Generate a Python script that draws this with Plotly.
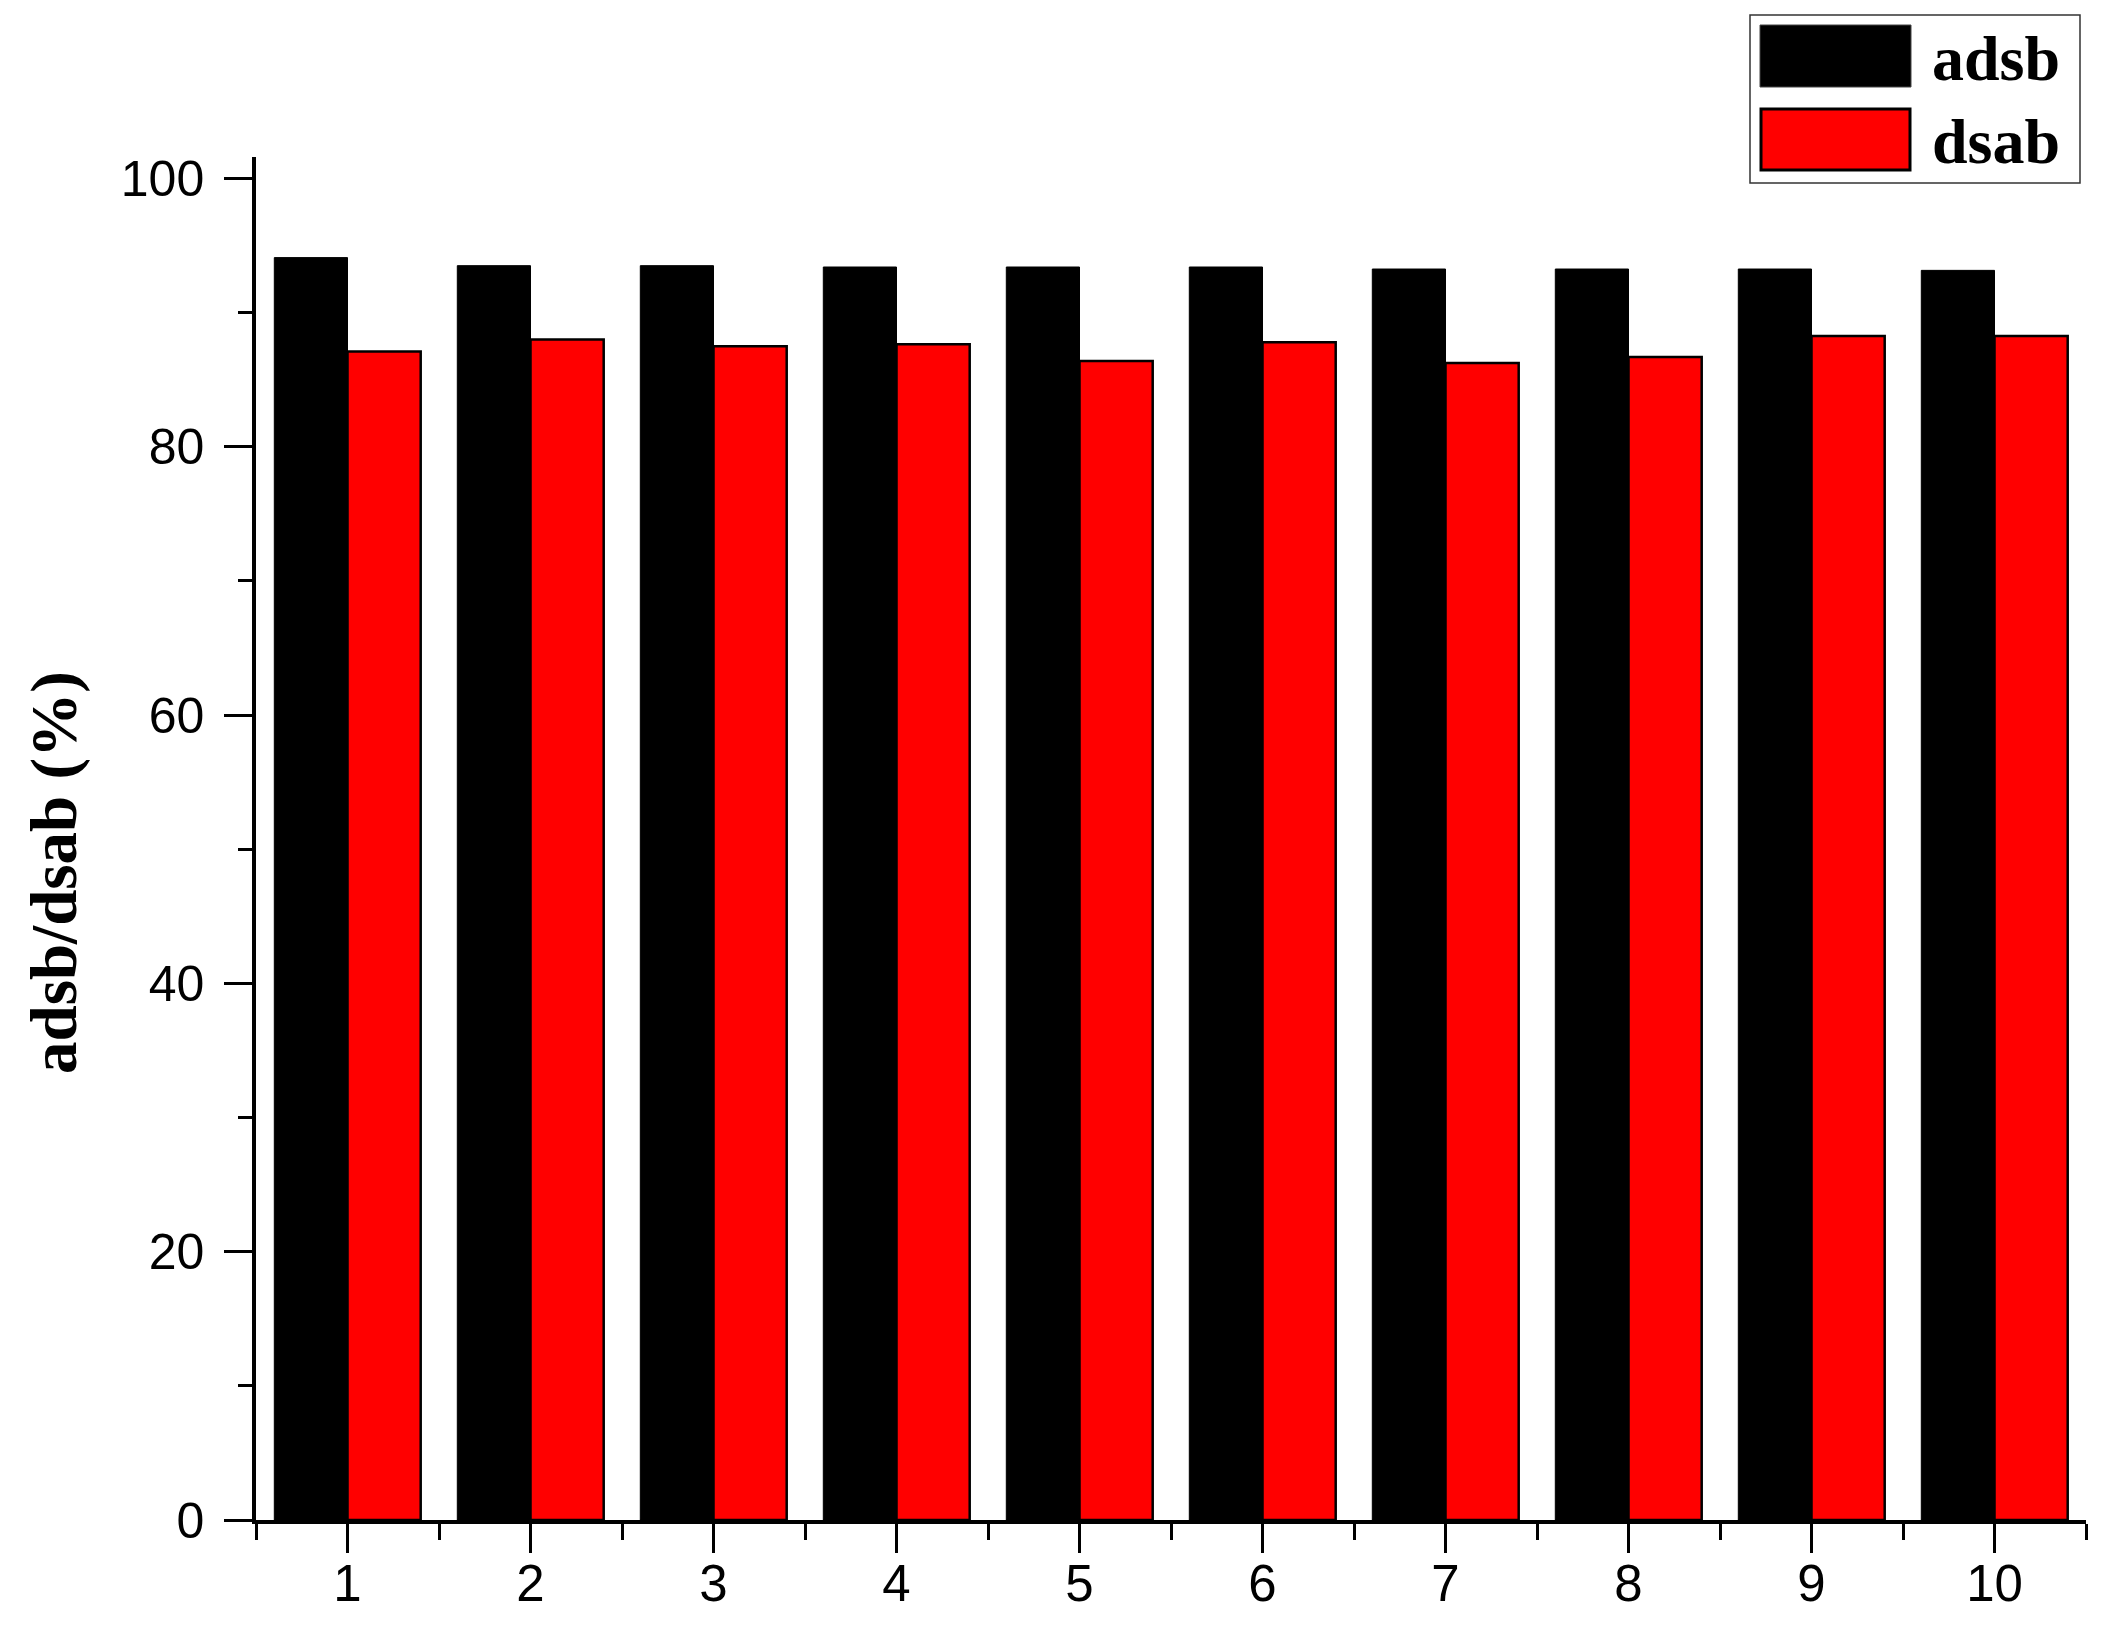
import plotly.graph_objects as go

# 数据
runs = [1, 2, 3, 4, 5, 6, 7, 8, 9, 10]
adsb = [94.1, 93.5, 93.5, 93.4, 93.4, 93.4, 93.25, 93.25, 93.25, 93.15]
dsab = [87.1, 88.0, 87.5, 87.65, 86.4, 87.8, 86.25, 86.7, 88.25, 88.25]
series_names = ['adsb', 'dsab']
y_title = 'adsb/dsab (%)'

# 页面 body 有 8px 边距，图尺寸相应缩小
OFF = 8
W, H = 2113 - 2 * OFF, 1626 - 2 * OFF
L, T = 256 - OFF, 157 - OFF
R = W - (2086 - OFF)
B = H - (1520 - OFF)
pw, ph = W - L - R, H - T - B


# 截图像素 -> paper 坐标
def px(x):
    return (x - OFF - L) / pw


def py(y):
    return (H - B - (y - OFF)) / ph


fig = go.Figure()
fig.add_trace(go.Bar(x=runs, y=adsb, name=series_names[0],
                     marker=dict(color='black', line=dict(color='black', width=1))))
fig.add_trace(go.Bar(x=runs, y=dsab, name=series_names[1],
                     marker=dict(color='#ff0000', line=dict(color='black', width=2.5))))

# 手动图例
fig.add_shape(type='rect', xref='paper', yref='paper',
              x0=px(1750), x1=px(2080), y0=py(183), y1=py(15),
              line=dict(color='#333333', width=1.5), fillcolor='white')
fig.add_shape(type='rect', xref='paper', yref='paper',
              x0=px(1760), x1=px(1911), y0=py(87), y1=py(25),
              line=dict(color='#444444', width=1), fillcolor='black')
fig.add_shape(type='rect', xref='paper', yref='paper',
              x0=px(1761), x1=px(1910), y0=py(170), y1=py(109),
              line=dict(color='black', width=3), fillcolor='#ff0000')
for name, yc in zip(series_names, [58, 141]):
    fig.add_annotation(xref='paper', yref='paper', x=px(1930), y=py(yc),
                       text='<b>' + name + '</b>', showarrow=False,
                       xanchor='left', yanchor='middle',
                       font=dict(family='Liberation Serif', size=64, color='black'))

# y 轴标题
fig.add_annotation(xref='paper', yref='paper', x=px(54), y=py(873),
                   text='<b>' + y_title + '</b>', showarrow=False, textangle=-90,
                   xanchor='center', yanchor='middle',
                   font=dict(family='Liberation Serif', size=65, color='black'))

fig.update_layout(
    width=W, height=H,
    margin=dict(l=L, r=R, t=T, b=B, autoexpand=False),
    paper_bgcolor='white', plot_bgcolor='white',
    barmode='group', bargap=0.2, bargroupgap=0,
    showlegend=False,
    font=dict(family='Liberation Sans', color='black'),
)
fig.update_xaxes(
    range=[0.5, 10.5], tickmode='linear', tick0=1, dtick=1,
    showgrid=False, zeroline=False,
    showline=True, linecolor='black', linewidth=3.5,
    ticks='outside', ticklen=29, tickwidth=3, tickcolor='black',
    minor=dict(ticks='outside', ticklen=16, tickwidth=3, tickcolor='black',
               tick0=0.5, dtick=1),
    tickfont=dict(size=51, family='Liberation Sans'),
    ticklabelstandoff=-13,
)
fig.update_yaxes(
    range=[0, 101.6], tickmode='linear', tick0=0, dtick=20,
    showgrid=False, zeroline=False,
    showline=True, linecolor='black', linewidth=3.5,
    ticks='outside', ticklen=28, tickwidth=3, tickcolor='black',
    minor=dict(ticks='outside', ticklen=14, tickwidth=3, tickcolor='black',
               tick0=0, dtick=10),
    tickfont=dict(size=50, family='Liberation Sans'),
    ticklabelstandoff=10,
)

fig.write_html("out.html")
